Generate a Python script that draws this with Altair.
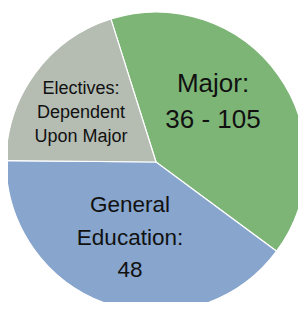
import altair as alt
import pandas as pd
import math

categories = ["Major", "General Education", "Electives"]
values = [48, 48, 24]
colors = ["#7db577", "#87a5cd", "#b5bdb3"]

major_lines = ["Major:", "36 - 105"]
gened_lines = ["General", "Education:", "48"]
elect_lines = ["Electives:", "Dependent", "Upon Major"]

df = pd.DataFrame({"category": categories, "value": values, "order": [0, 1, 2]})

start = -17.5 * math.pi / 180
cx, cy, r = 156 - 8, 162 - 8, 150

pie = alt.Chart(df).mark_arc(stroke="white", strokeWidth=1.2).encode(
    theta=alt.Theta("value:Q", stack=True,
                    scale=alt.Scale(range=[start, start + 2 * math.pi])),
    order=alt.Order("order:Q"),
    color=alt.Color("category:N", scale=alt.Scale(domain=categories, range=colors), legend=None),
    x=alt.value(cx), y=alt.value(cy), radius=alt.value(r),
)

def label(lines, x, y, size, lh):
    d = pd.DataFrame({"t": ["\n".join(lines)]})
    return alt.Chart(d).mark_text(
        font="Liberation Sans", fontSize=size, lineBreak="\n", lineHeight=lh,
        align="center", baseline="alphabetic", color="#111111"
    ).encode(text="t:N", x=alt.value(x - 8), y=alt.value(y - 8))

chart = alt.layer(
    pie,
    label(major_lines, 213, 92, 26, 36),
    label(elect_lines, 81, 94, 18, 24),
    label(gened_lines, 130, 212, 22.5, 32.5),
).properties(
    width=290, height=294, autosize=alt.AutoSizeParams(type="none"), padding=0
).configure_view(stroke=None)

chart.save("out.html", embed_options={"renderer": "svg", "actions": False})
